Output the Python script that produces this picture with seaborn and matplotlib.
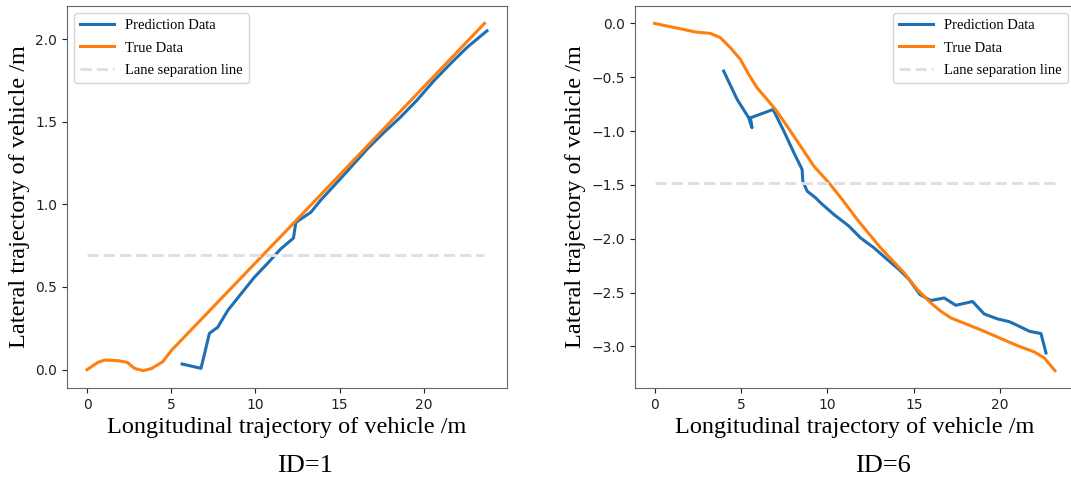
import matplotlib
matplotlib.use("Agg")
import matplotlib.pyplot as plt
import seaborn as sns

# ID=1
true1_x = [0, 0.65, 1.05, 1.84, 2.39, 2.82, 3.32, 3.81, 4.5, 5.0, 12.3, 23.6]
true1_y = [0, 0.044, 0.058, 0.054, 0.044, 0.008, -0.006, 0.006, 0.048, 0.115, 0.89, 2.095]
pred1_x = [5.65, 6.77, 7.27, 7.76, 8.35, 9.14, 9.93, 10.72, 11.5, 12.26, 12.4, 13.29,
           13.88, 14.67, 15.66, 16.64, 17.63, 18.6, 19.6, 20.6, 21.6, 22.57, 23.75]
pred1_y = [0.034, 0.008, 0.22, 0.256, 0.357, 0.458, 0.558, 0.643, 0.73, 0.796, 0.891, 0.952,
           1.026, 1.113, 1.224, 1.335, 1.435, 1.526, 1.631, 1.748, 1.853, 1.95, 2.05]
lane1_x = [0, 23.6]
lane1_y = [0.694, 0.694]

# ID=6
true6_x = [0, 0.54, 1.49, 2.36, 3.23, 3.81, 4.39, 4.97, 5.45, 5.93, 6.51, 7.0, 7.67, 8.45,
           9.22, 10.09, 10.86, 11.73, 13.08, 14.44, 15.21, 15.98, 16.56, 17.14, 18.11, 19.07,
           20.04, 21.0, 21.97, 22.55, 23.17]
true6_y = [0, -0.019, -0.05, -0.08, -0.093, -0.133, -0.226, -0.335, -0.474, -0.598, -0.706,
           -0.8, -0.954, -1.14, -1.326, -1.48, -1.636, -1.822, -2.085, -2.317, -2.472, -2.596,
           -2.673, -2.735, -2.797, -2.859, -2.927, -2.993, -3.051, -3.107, -3.225]
pred6_x = [4.0, 4.78, 5.45, 5.64, 5.55, 6.86, 7.48, 8.06, 8.54, 8.58, 8.83, 9.32, 9.61, 10.38,
           11.25, 11.92, 12.7, 13.47, 14.15, 14.73, 15.36, 15.98, 16.76, 17.43, 18.4, 19.07,
           19.85, 20.52, 21.1, 21.68, 22.36, 22.65]
pred6_y = [-0.443, -0.706, -0.877, -0.97, -0.877, -0.8, -1.0, -1.2, -1.357, -1.465, -1.558,
           -1.62, -1.667, -1.775, -1.883, -1.992, -2.085, -2.193, -2.286, -2.379, -2.519, -2.574,
           -2.55, -2.618, -2.583, -2.698, -2.745, -2.77, -2.813, -2.859, -2.881, -3.061]
lane6_x = [0, 23.17]
lane6_y = [-1.481, -1.481]

captions = ["ID=1", "ID=6"]
legend_loc = ["upper left", "upper right"]

serif = ["Liberation Serif", "DejaVu Serif"]

fig = plt.figure(figsize=(10.71, 4.82), dpi=100)
ax1 = fig.add_axes([67 / 1071, 1 - 388 / 482, 440 / 1071, 382 / 482])
# right panel is cropped at the image edge in the original
ax2 = fig.add_axes([634.5 / 1071, 1 - 388 / 482, 440.5 / 1071, 382 / 482])

panels = [
    (ax1, true1_x, true1_y, pred1_x, pred1_y, lane1_x, lane1_y),
    (ax2, true6_x, true6_y, pred6_x, pred6_y, lane6_x, lane6_y),
]

for i, (ax, tx, ty, px, py, lx, ly) in enumerate(panels):
    sns.lineplot(x=px, y=py, ax=ax, sort=False, estimator=None, color="#1f6fb4",
                 linewidth=2.2, label="Prediction Data")
    sns.lineplot(x=tx, y=ty, ax=ax, sort=False, estimator=None, color="#ff7f0e",
                 linewidth=2.2, label="True Data")
    sns.lineplot(x=lx, y=ly, ax=ax, sort=False, estimator=None, color="#e0e0e0",
                 linewidth=2.2, linestyle="--", label="Lane separation line")
    ax.set_xticks([0, 5, 10, 15, 20])
    ax.tick_params(labelsize=10, colors="#222222")
    for s in ax.spines.values():
        s.set_color("#666666")
    ax.set_xlabel("Longitudinal trajectory of vehicle /m", family=serif, fontsize=17.5)
    ax.set_ylabel("Lateral trajectory of vehicle /m", family=serif, fontsize=17.5)
    ax.legend(loc=legend_loc[i], prop={"family": serif, "size": 10.5}, handlelength=2.3,
              labelspacing=0.62)

ax1.set_yticks([0.0, 0.5, 1.0, 1.5, 2.0])
ax2.set_yticks([0.0, -0.5, -1.0, -1.5, -2.0, -2.5, -3.0])

fig.text(305 / 1071, 1 - 466 / 482, captions[0], family=serif, fontsize=19, ha="center", va="center")
fig.text(883 / 1071, 1 - 466 / 482, captions[1], family=serif, fontsize=19, ha="center", va="center")

fig.savefig("out.png", dpi=100)
